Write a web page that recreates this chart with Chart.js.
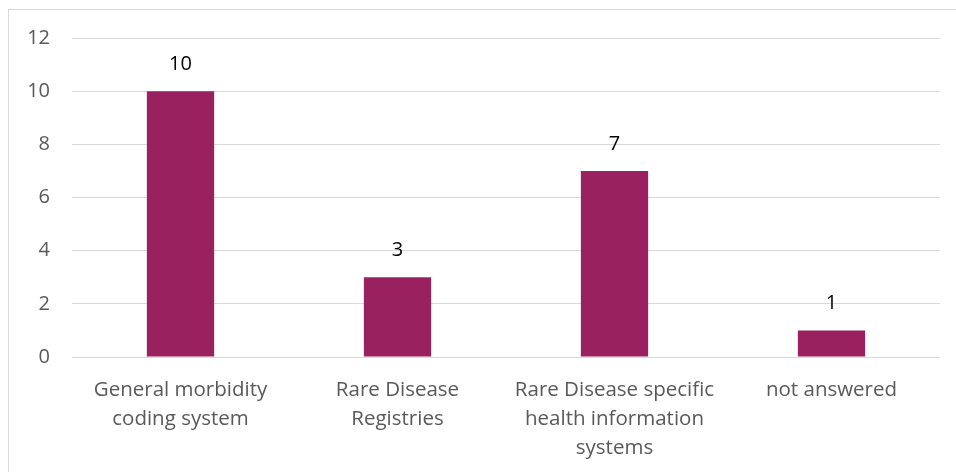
<!DOCTYPE html>
<html>
<head>
<meta charset="utf-8">
<script src="https://cdn.jsdelivr.net/npm/chart.js@4.4.1/dist/chart.umd.min.js"></script>
<style>
  html, body { margin: 0; padding: 0; background: #fff; overflow: hidden; }
  #wrap { position: absolute; left: 0; top: 0; width: 956px; height: 472px; }
  #frame { position: absolute; left: 8px; top: 9px; width: 980px; height: 500px; border: 1px solid #d9d9d9; box-sizing: border-box; }
  canvas { position: absolute; left: 0; top: 0; }
</style>
</head>
<body>
<div id="wrap">
  <div id="frame"></div>
  <canvas id="c" width="956" height="472"></canvas>
</div>
<script>
// Categories (multi-line labels) and counts per category
const categories = [
  ["General morbidity", "coding system"],
  ["Rare Disease", "Registries"],
  ["Rare Disease specific", "health information", "systems"],
  ["not answered"]
];
const counts = [10, 3, 7, 1];
const yTicks = [0, 2, 4, 6, 8, 10, 12];

const FONT = "'Open Sans', 'Liberation Sans', sans-serif";

// Draws the value above each bar
const valueLabels = {
  id: 'valueLabels',
  afterDatasetsDraw(chart) {
    const ctx = chart.ctx;
    const meta = chart.getDatasetMeta(0);
    ctx.save();
    ctx.font = "20px " + FONT;
    ctx.fillStyle = "#000";
    ctx.textAlign = "center";
    ctx.textBaseline = "middle";
    meta.data.forEach((bar, i) => {
      ctx.fillText(String(chart.data.datasets[0].data[i]), bar.x, bar.y - 27);
    });
    ctx.restore();
  }
};

new Chart(document.getElementById('c'), {
  type: 'bar',
  data: {
    labels: categories,
    datasets: [{
      data: counts,
      backgroundColor: '#9a2160',
      categoryPercentage: 1,
      barPercentage: 0.31
    }]
  },
  options: {
    responsive: false,
    animation: false,
    layout: { padding: { top: 38, right: 16, bottom: 0, left: 0 } },
    plugins: { legend: { display: false }, tooltip: { enabled: false } },
    scales: {
      x: {
        grid: { display: false, drawTicks: false },
        border: { display: false },
        ticks: {
          color: '#595959',
          font: { family: FONT, size: 20.5, lineHeight: 1.41 },
          padding: 19,
          maxRotation: 0,
          autoSkip: false
        },
        afterFit(s) { s.height = 115; }
      },
      y: {
        min: 0, max: 12,
        afterBuildTicks(s) { s.ticks = yTicks.map(v => ({ value: v })); },
        grid: { color: '#d9d9d9', lineWidth: 1, drawTicks: false },
        border: { display: false },
        ticks: {
          color: '#595959',
          font: { family: FONT, size: 20 },
          padding: 22
        },
        afterFit(s) { s.width = 72; }
      }
    }
  },
  plugins: [valueLabels]
});
</script>
</body>
</html>
